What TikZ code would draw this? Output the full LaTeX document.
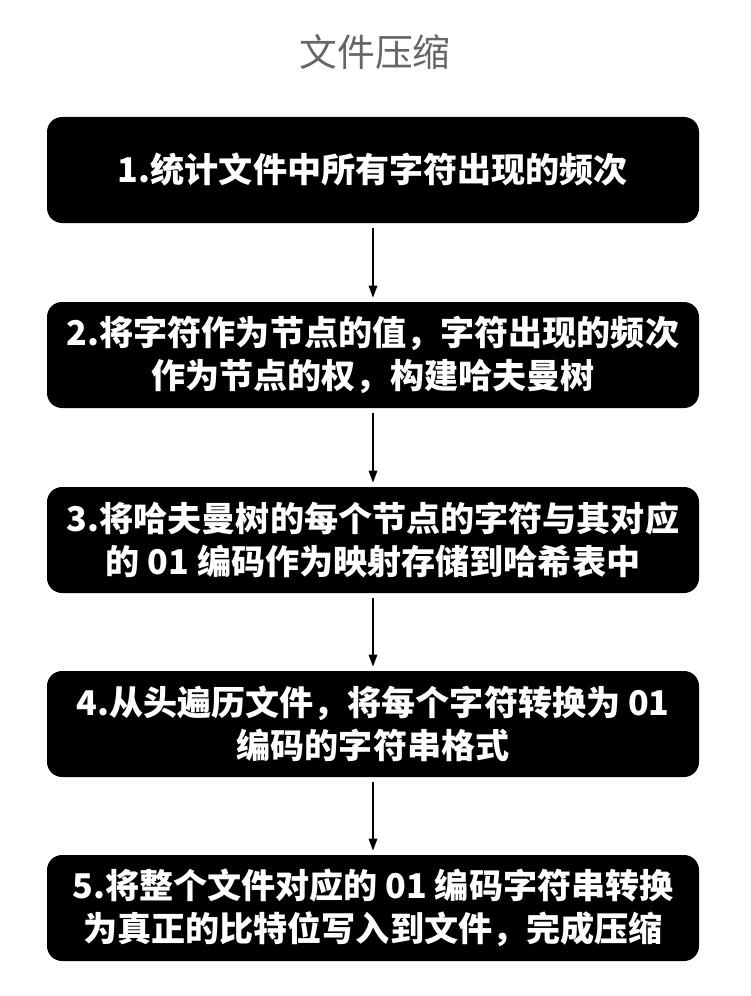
\documentclass[tikz,border=0pt]{standalone}
\usepackage{fontspec}
\newfontfamily\cjk{Noto Sans CJK SC}
\usepackage{tikz}
\usetikzlibrary{arrows.meta, positioning}
\definecolor{titlegray}{RGB}{102, 102, 102}

\begin{document}
\begin{tikzpicture}[
    stepbox/.style={draw=none, fill=black, rounded corners=0.3cm, minimum width=13.04cm,
        minimum height=2.12cm, align=center, text=white,
        font=\cjk\bfseries\fontsize{19.4}{24.5}\selectfont},
    flow/.style={line width=0.8pt, -{Triangle[length=0.24cm, width=0.17cm]},
        shorten <=0.1cm, shorten >=0.08cm}]
    \useasboundingbox (0,0) rectangle (15,-19.92);
    % title
    \node[text=titlegray, font=\cjk\fontsize{21.5}{26}\selectfont] (title) at (7.5,-1.04) {文件压缩};
    % steps
    \node[stepbox] (s1) at (7.46,-3.4) {1.统计文件中所有字符出现的频次};
    \node[stepbox] (s2) at (7.46,-7.1) {2.将字符作为节点的值，字符出现的频次\\作为节点的权，构建哈夫曼树};
    \node[stepbox] (s3) at (7.46,-10.8) {3.将哈夫曼树的每个节点的字符与其对应\\的 01 编码作为映射存储到哈希表中};
    \node[stepbox] (s4) at (7.46,-14.48) {4.从头遍历文件，将每个字符转换为 01\\编码的字符串格式};
    \node[stepbox] (s5) at (7.46,-18.16) {5.将整个文件对应的 01 编码字符串转换\\为真正的比特位写入到文件，完成压缩};
    % arrows
    \draw[flow] (s1) -- (s2);
    \draw[flow] (s2) -- (s3);
    \draw[flow] (s3) -- (s4);
    \draw[flow] (s4) -- (s5);
\end{tikzpicture}
\end{document}
